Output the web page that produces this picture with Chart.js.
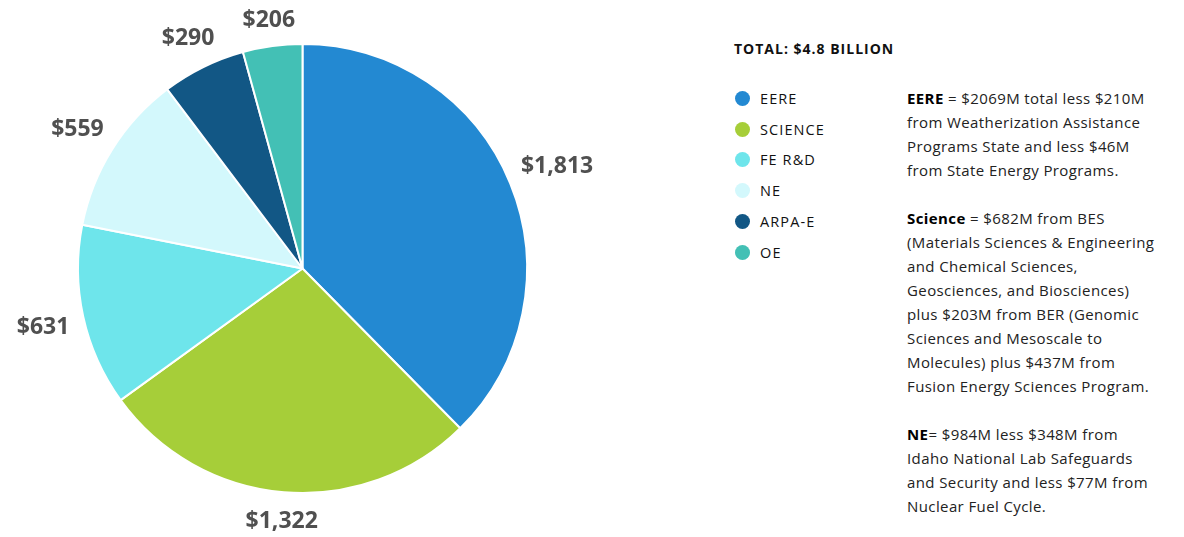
<!DOCTYPE html>
<html>
<head>
<meta charset="utf-8">
<script src="https://cdn.jsdelivr.net/npm/chart.js@4/dist/chart.umd.min.js"></script>
<style>
  html, body { margin:0; padding:0; background:#fff; width:1184px; height:537px; overflow:hidden; font-family: "Open Sans", Lato, sans-serif; }
  #wrap { position:absolute; left:0; top:0; width:604px; height:537px; }
  #total { position:absolute; left:734px; top:39px; font-size:14px; font-weight:700; color:#111; letter-spacing:1px; }
  #legend { position:absolute; left:735px; top:83px; }
  .li { height:30.8px; display:flex; align-items:center; font-size:14.5px; color:#111; letter-spacing:1.1px; }
  .dot { width:15px; height:15px; border-radius:50%; margin-right:10px; }
  #notes { position:absolute; left:907px; top:86px; font-size:15px; line-height:24px; color:#222; letter-spacing:0.4px; white-space:nowrap; }
  #notes b { color:#000; }
</style>
</head>
<body>
<div id="wrap"><canvas id="c"></canvas></div>
<div id="total">TOTAL: $4.8 BILLION</div>
<div id="legend"></div>
<div id="notes">
<b>EERE</b> = $2069M total less $210M<br>from Weatherization Assistance<br>Programs State and less $46M<br>from State Energy Programs.<br><br>
<b>Science</b> = $682M from BES<br>(Materials Sciences &amp; Engineering<br>and Chemical Sciences,<br>Geosciences, and Biosciences)<br>plus $203M from BER (Genomic<br>Sciences and Mesoscale to<br>Molecules) plus $437M from<br>Fusion Energy Sciences Program.<br><br>
<b>NE</b>= $984M less $348M from<br>Idaho National Lab Safeguards<br>and Security and less $77M from<br>Nuclear Fuel Cycle.
</div>
<script>
const categories = ["EERE", "SCIENCE", "FE R&D", "NE", "ARPA-E", "OE"];
const values = [1813, 1322, 631, 559, 290, 206];
const colors = ["#2389d2", "#a6ce39", "#6ee5eb", "#d3f8fc", "#125785", "#43c0b5"];

const legend = document.getElementById('legend');
categories.forEach((c, i) => {
  const d = document.createElement('div');
  d.className = 'li';
  d.innerHTML = '<span class="dot" style="background:' + colors[i] + '"></span><span></span>';
  d.lastChild.textContent = c;
  legend.appendChild(d);
});

const labelPlugin = {
  id: 'outLabels',
  afterDatasetsDraw(chart) {
    const ctx = chart.ctx;
    const meta = chart.getDatasetMeta(0);
    ctx.save();
    ctx.font = '700 23px "Open Sans", Lato, sans-serif';
    ctx.fillStyle = '#505050';
    ctx.textAlign = 'center';
    ctx.textBaseline = 'middle';
    meta.data.forEach((arc, i) => {
      const p = arc.getProps(['x','y','startAngle','endAngle','outerRadius'], true);
      const mid = (p.startAngle + p.endAngle) / 2;
      const txt = '$' + values[i].toLocaleString('en-US');
      const w = ctx.measureText(txt).width;
      const h = 22;
      const cx = Math.cos(mid), sy = Math.sin(mid);
      const r = p.outerRadius + 13 + Math.abs(cx) * w / 2 + Math.abs(sy) * h / 2;
      ctx.fillText(txt, p.x + cx * r, p.y + sy * r + 2);
    });
    ctx.restore();
  }
};

new Chart(document.getElementById('c'), {
  type: 'pie',
  data: {
    labels: categories,
    datasets: [{ data: values, backgroundColor: colors, borderColor: '#ffffff', borderWidth: 2 }]
  },
  options: {
    responsive: true,
    maintainAspectRatio: false,
    animation: false,
    layout: { padding: { left: 77, right: 76, top: 43, bottom: 43 } },
    plugins: { legend: { display: false }, tooltip: { enabled: false } }
  },
  plugins: [labelPlugin]
});
</script>
</body>
</html>
